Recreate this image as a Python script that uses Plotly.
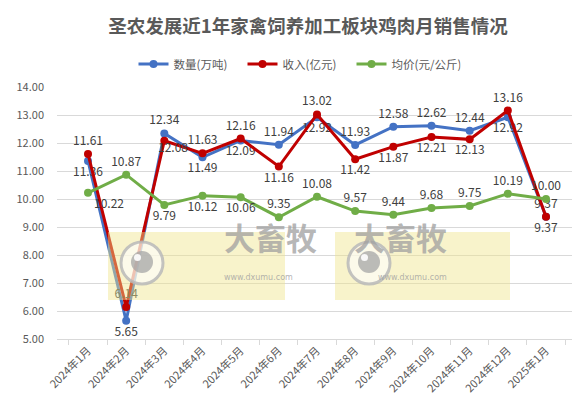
import plotly.graph_objects as go

months = ["2024年1月", "2024年2月", "2024年3月", "2024年4月", "2024年5月", "2024年6月",
          "2024年7月", "2024年8月", "2024年9月", "2024年10月", "2024年11月", "2024年12月", "2025年1月"]
quantity = [11.36, 5.65, 12.34, 11.49, 12.09, 11.94, 12.92, 11.93, 12.58, 12.62, 12.44, 12.92, 9.37]
revenue = [11.61, 6.14, 12.08, 11.63, 12.16, 11.16, 13.02, 11.42, 11.87, 12.21, 12.13, 13.16, 9.37]
price = [10.22, 10.87, 9.79, 10.12, 10.06, 9.35, 10.08, 9.57, 9.44, 9.68, 9.75, 10.19, 10.00]

pos_q = ["bottom center", "bottom center", "top center", "bottom center", "bottom center", "top center",
         "bottom center", "top center", "top center", "top center", "top center", "bottom center", "top center"]
pos_r = ["top center", "top center", "middle center", "top center", "top center", "bottom center",
         "top center", "bottom center", "bottom center", "bottom center", "bottom center", "top center", "bottom center"]
pos_p = ["bottom right", "top center", "bottom center", "bottom center", "bottom center", "top center",
         "top center", "top center", "top center", "top center", "top center", "top center", "top center"]

BLUE, RED, GREEN = "#4472C4", "#C00000", "#70AD47"
FONT = "Microsoft YaHei, Noto Sans CJK SC, sans-serif"
lab_font = dict(family=FONT, size=12, color="#404040")

fig = go.Figure()
for name, vals, col, pos in [("数量(万吨)", quantity, BLUE, pos_q),
                             ("收入(亿元)", revenue, RED, pos_r),
                             ("均价(元/公斤)", price, GREEN, pos_p)]:
    txt = [f"{v:.2f}" for v in vals]
    if vals is revenue:
        txt[2] = ""  # placed via annotation with a small offset below
    fig.add_trace(go.Scatter(
        x=months, y=vals, name=name, mode="lines+markers+text",
        line=dict(color=col, width=3), marker=dict(color=col, size=8),
        text=txt, textposition=pos, textfont=lab_font,
        cliponaxis=False))

# page body has an 8px margin: figure sits at (8,8) in the window
OFF = 8
# plot area in window pixels: x 57..577, y 87..339
def px(x):
    return (x - 57) / 520
def py(y):
    return (339 - y) / 252

shapes = []
annotations = [dict(x=months[2], y=revenue[2], xref="x", yref="y", showarrow=False,
                    text=f"{revenue[2]:.2f}", xshift=9, yshift=-6, font=lab_font)]
for (rx0, rx1, cx, tx) in [(108, 285, 142, 222), (335, 510, 369, 449)]:
    shapes.append(dict(type="rect", xref="paper", yref="paper", layer="above",
                       x0=px(rx0), x1=px(rx1), y0=py(300), y1=py(232),
                       fillcolor="rgba(240,228,140,0.45)", line=dict(width=0)))
    shapes.append(dict(type="circle", xref="paper", yref="paper", layer="above",
                       x0=px(cx - 21), x1=px(cx + 21), y0=py(263 + 21), y1=py(263 - 21),
                       fillcolor="rgba(255,255,255,0.6)", line=dict(color="rgba(185,185,185,0.85)", width=3)))
    shapes.append(dict(type="circle", xref="paper", yref="paper", layer="above",
                       x0=px(cx - 11), x1=px(cx + 11), y0=py(262 + 11), y1=py(262 - 11),
                       fillcolor="rgba(165,165,165,0.75)", line=dict(width=0)))
    shapes.append(dict(type="circle", xref="paper", yref="paper", layer="above",
                       x0=px(cx - 8), x1=px(cx - 1), y0=py(258 + 3), y1=py(258 - 4),
                       fillcolor="rgba(255,255,255,0.9)", line=dict(width=0)))
    annotations.append(dict(xref="paper", yref="paper", x=px(tx), y=py(261), showarrow=False,
                            text="<b>大畜牧</b>", font=dict(family="Noto Sans CJK SC", size=31,
                                                        color="rgba(160,160,160,0.75)")))
    annotations.append(dict(xref="paper", yref="paper", x=px(tx), y=py(284), showarrow=False,
                            text="www.dxumu.com", font=dict(family="DejaVu Sans", size=8,
                                                            color="rgba(160,160,160,0.8)")))

fig.update_layout(
    width=580 - OFF, height=404 - OFF,
    margin=dict(l=57 - OFF, r=3, t=87 - OFF, b=65, autoexpand=False),
    paper_bgcolor="white", plot_bgcolor="white",
    title=dict(text="<b>圣农发展近1年家禽饲养加工板块鸡肉月销售情况</b>",
               x=px(308), xanchor="center", xref="paper", yref="container",
               y=1 - (27 - OFF) / (404 - OFF), yanchor="middle",
               font=dict(family=FONT, size=18.5, color="#595959")),
    legend=dict(orientation="h", x=px(297), xanchor="center", yref="paper", y=py(64), yanchor="middle",
                font=dict(family=FONT, size=11.5, color="#595959"), itemwidth=30,
                entrywidth=64, entrywidthmode="pixels"),
    showlegend=True,
    xaxis=dict(tickangle=-45, showgrid=False, showline=True, linecolor="#D9D9D9", automargin=False,
               ticks="outside", ticklen=5, tickcolor="#D9D9D9", tickson="boundaries",
               tickfont=dict(family=FONT, size=11, color="#595959")),
    yaxis=dict(range=[5, 14], dtick=1, tickformat=".2f", showgrid=True, gridcolor="#D9D9D9",
               zeroline=False, showline=False, automargin=False, ticklabelstandoff=12,
               tickfont=dict(family=FONT, size=11, color="#595959")),
    shapes=shapes, annotations=annotations,
)

fig.write_html("out.html")
